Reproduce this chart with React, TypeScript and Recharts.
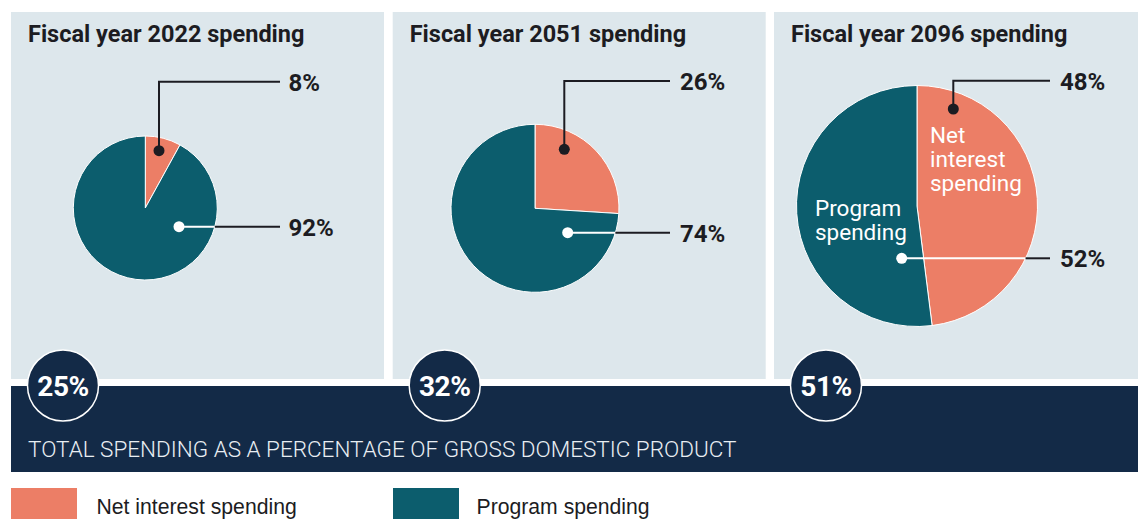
import React from 'react';
import { PieChart, Pie, Cell } from 'recharts';

// ---- data ----
const categories = ['Net interest spending', 'Program spending'];
const years = ['2022', '2051', '2096'];
const netInterestShare = [8, 26, 48];
const programShare = [92, 74, 52];
const totalSpendingPctGdp = [25, 32, 51];
const bandLabel = 'TOTAL SPENDING AS A PERCENTAGE OF GROSS DOMESTIC PRODUCT';

// ---- styles / layout ----
const W = 1138;
const H = 519;
const COLORS = ['#ec7e66', '#0c5d6d'];
const PANEL_BG = '#dde7ec';
const NAVY = '#132a47';
const DARK = '#1c1c22';
const FONT = 'Roboto, "Liberation Sans", Arial, sans-serif';

const PANELS = [
  { x: 11, w: 373 },
  { x: 392.7, w: 373 },
  { x: 774, w: 364 },
];
const PIE_GEOM = [
  { cx: 145.3, cy: 208, r: 72 },
  { cx: 535, cy: 208.3, r: 84 },
  { cx: 917, cy: 206, r: 120.5 },
];
const ANNOT = [
  { net: { dx: 13.7, dy: -57.3, elbowY: 81.7 }, prog: { dx: 33.7, dy: 18.7 }, lineEnd: 280, labelX: 288.5 },
  { net: { dx: 29.3, dy: -59, elbowY: 81 }, prog: { dx: 32.7, dy: 24.4 }, lineEnd: 670, labelX: 680 },
  { net: { dx: 36.3, dy: -97, elbowY: 80.7 }, prog: { dx: -15.3, dy: 52.3 }, lineEnd: 1050, labelX: 1060 },
];

const pieData = years.map((_, i) => [
  { name: categories[0], value: netInterestShare[i] },
  { name: categories[1], value: programShare[i] },
]);

function makeLabel(pieIdx: number) {
  return (props: any) => {
    const g = PIE_GEOM[pieIdx];
    const a = ANNOT[pieIdx];
    const idx = props.index;
    const val = props.value;
    if (idx === 0) {
      const x = g.cx + a.net.dx;
      const y = g.cy + a.net.dy;
      return (
        <g key={`l-${pieIdx}-0`}>
          <polyline
            points={`${x},${y} ${x},${a.net.elbowY} ${a.lineEnd},${a.net.elbowY}`}
            fill="none"
            stroke={DARK}
            strokeWidth={2}
          />
          <circle cx={x} cy={y} r={5.5} fill={DARK} />
          <text x={a.labelX} y={a.net.elbowY + 9} fill={DARK} fontFamily={FONT} fontWeight={700} fontSize={24}>
            {val}%
          </text>
        </g>
      );
    }
    const x = g.cx + a.prog.dx;
    const y = g.cy + a.prog.dy;
    const edgeX = g.cx + Math.sqrt(g.r * g.r - a.prog.dy * a.prog.dy);
    return (
      <g key={`l-${pieIdx}-1`}>
        <line x1={x} y1={y} x2={edgeX} y2={y} stroke="#ffffff" strokeWidth={2} />
        <line x1={edgeX} y1={y} x2={a.lineEnd} y2={y} stroke={DARK} strokeWidth={2} />
        <circle cx={x} cy={y} r={5.5} fill="#ffffff" />
        <text x={a.labelX} y={y + 9} fill={DARK} fontFamily={FONT} fontWeight={700} fontSize={24}>
          {val}%
        </text>
      </g>
    );
  };
}

export default function App() {
  return (
    <div style={{ position: 'absolute', left: 0, top: 0, width: W, height: H, background: '#ffffff', overflow: 'hidden' }}>
      <svg width={W} height={H} style={{ position: 'absolute', left: 0, top: 0 }}>
        {PANELS.map((p, i) => (
          <g key={i}>
            <rect x={p.x} y={12} width={p.w} height={367} fill={PANEL_BG} />
            <text x={p.x + 17} y={41.5} fill={DARK} fontFamily={FONT} fontWeight={700} fontSize={23.5}>
              {`Fiscal year ${years[i]} spending`}
            </text>
          </g>
        ))}
        <rect x={11} y={386} width={W - 11} height={86} fill={NAVY} />
        <text x={28} y={457} fill="#e9eef3" fontFamily={FONT} fontWeight={300} fontSize={22.5}>
          {bandLabel}
        </text>
        {PANELS.map((p, i) => (
          <g key={`c${i}`}>
            <circle cx={p.x + 52} cy={385.5} r={35.5} fill={NAVY} stroke="#ffffff" strokeWidth={1.5} />
            <text
              x={p.x + 52}
              y={395.5}
              textAnchor="middle"
              fill="#ffffff"
              fontFamily={FONT}
              fontWeight={700}
              fontSize={28}
              letterSpacing={-0.5}
            >
              {totalSpendingPctGdp[i]}%
            </text>
          </g>
        ))}
        <rect x={11} y={488} width={66} height={31} fill={COLORS[0]} />
        <text x={96.5} y={514} fill={DARK} fontFamily='"Liberation Sans", Arial, sans-serif' fontSize={21.2}>
          {categories[0]}
        </text>
        <rect x={393} y={488} width={66} height={31} fill={COLORS[1]} />
        <text x={476.5} y={514} fill={DARK} fontFamily='"Liberation Sans", Arial, sans-serif' fontSize={21.2}>
          {categories[1]}
        </text>
      </svg>
      <div style={{ position: 'absolute', left: 0, top: 0 }}>
        <PieChart width={W} height={H} margin={{ top: 0, right: 0, bottom: 0, left: 0 }}>
          {pieData.map((d, i) => (
            <Pie
              key={i}
              data={d}
              dataKey="value"
              nameKey="name"
              cx={PIE_GEOM[i].cx}
              cy={PIE_GEOM[i].cy}
              outerRadius={PIE_GEOM[i].r}
              innerRadius={0}
              startAngle={90}
              endAngle={-270}
              stroke="#ffffff"
              strokeWidth={1}
              isAnimationActive={false}
              labelLine={false}
              label={makeLabel(i)}
            >
              {d.map((_, j) => (
                <Cell key={j} fill={COLORS[j]} />
              ))}
            </Pie>
          ))}
        </PieChart>
      </div>
      <svg width={W} height={H} style={{ position: 'absolute', left: 0, top: 0, pointerEvents: 'none' }}>
        <text fill="#ffffff" fontFamily={FONT} fontSize={22.5}>
          <tspan x={930} y={142.7}>Net</tspan>
          <tspan x={930} y={166.7}>interest</tspan>
          <tspan x={930} y={190.7}>spending</tspan>
        </text>
        <text fill="#ffffff" fontFamily={FONT} fontSize={22.5}>
          <tspan x={815} y={215.5}>Program</tspan>
          <tspan x={815} y={239.5}>spending</tspan>
        </text>
      </svg>
    </div>
  );
}
